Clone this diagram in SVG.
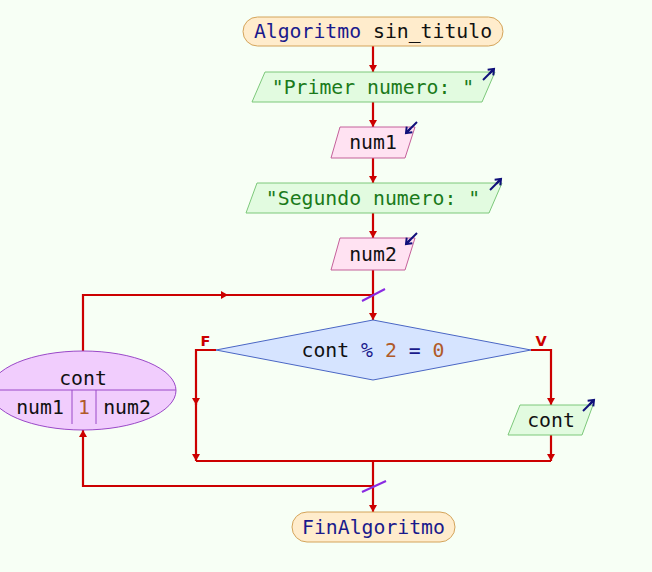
<svg xmlns="http://www.w3.org/2000/svg" width="652" height="572" viewBox="0 0 652 572">
<defs>
<style>
.t{font-family:"DejaVu Sans Mono","Liberation Mono",monospace;font-size:19.8px;text-anchor:middle}
.kw{fill:#1a1a8c}.num{fill:#b05a28}.str{fill:#1a7a1a}.id{fill:#111}
.term{fill:#ffeccc;stroke:#d4a45a;stroke-width:1}
.out{fill:#e2fbe0;stroke:#7cc87a;stroke-width:1}
.in{fill:#ffe2f2;stroke:#c4609a;stroke-width:1}
.dec{fill:#d6e4ff;stroke:#4a66c4;stroke-width:1}
.loop{fill:#f1cdfd;stroke:#9a48c8;stroke-width:1}
.ln{fill:none;stroke:#cc0000;stroke-width:2.2}
.ic{fill:none;stroke:#10107a;stroke-width:2}
.sl{stroke:#8a2be2;stroke-width:2}
.lab{font-family:"DejaVu Sans","Liberation Sans",sans-serif;font-size:14.5px;font-weight:bold;fill:#cc0000;text-anchor:middle}
</style>
<marker id="ah" markerUnits="userSpaceOnUse" markerWidth="10" markerHeight="10" refX="8" refY="5" orient="auto"><path d="M1,1 L8,5 L1,9 Z" fill="#cc0000"/></marker>
<marker id="ih" markerUnits="userSpaceOnUse" markerWidth="10" markerHeight="10" refX="7" refY="5" orient="auto"><path d="M0,5 L7,5 M2,1 L7,5 L2,9" fill="none" stroke="#10107a" stroke-width="2"/></marker>
</defs>
<rect width="652" height="572" fill="#f7fff5"/>
<g id="connectors">
<path class="ln" d="M373,46 V72" marker-end="url(#ah)"/>
<path class="ln" d="M373,102 V127" marker-end="url(#ah)"/>
<path class="ln" d="M373,158 V183" marker-end="url(#ah)"/>
<path class="ln" d="M373,213 V238" marker-end="url(#ah)"/>
<path class="ln" d="M373,270 V320" marker-end="url(#ah)"/>
<path class="ln" d="M83,351 V295 H228" marker-end="url(#ah)"/>
<path class="ln" d="M226,295 H373"/>
<path class="ln" d="M216,350 H196 V405" marker-end="url(#ah)"/>
<path class="ln" d="M196,403 V461" marker-end="url(#ah)"/>
<path class="ln" d="M531,350 H551 V405" marker-end="url(#ah)"/>
<path class="ln" d="M551,435 V461" marker-end="url(#ah)"/>
<path class="ln" d="M196,461 H551"/>
<path class="ln" d="M373,461 V512" marker-end="url(#ah)"/>
<path class="ln" d="M373,486 H83 V430" marker-end="url(#ah)"/>
<line class="sl" x1="362" y1="301" x2="385" y2="289"/>
<line class="sl" x1="362" y1="492" x2="386" y2="481"/>
<text class="lab" x="205.5" y="345.5">F</text>
<text class="lab" x="541" y="345.5">V</text>
</g>
<g id="start">
<rect class="term" x="243" y="17" width="260" height="29" rx="14.5"/>
<text class="t" x="373" y="38"><tspan class="kw">Algoritmo</tspan><tspan class="id"> sin_titulo</tspan></text>
</g>
<g id="out1">
<polygon class="out" points="265,72 495,72 482,102 252,102"/>
<text class="t str" x="373" y="94">"Primer numero: "</text>
<line class="ic" x1="483" y1="80" x2="494" y2="69" marker-end="url(#ih)"/>
</g>
<g id="in1">
<polygon class="in" points="340,127 415,127 405,158 331,158"/>
<text class="t id" x="373" y="149">num1</text>
<line class="ic" x1="417" y1="122" x2="406" y2="133" marker-end="url(#ih)"/>
</g>
<g id="out2">
<polygon class="out" points="257,183 502,183 489,213 246,213"/>
<text class="t str" x="373" y="205">"Segundo numero: "</text>
<line class="ic" x1="490" y1="190" x2="501" y2="179" marker-end="url(#ih)"/>
</g>
<g id="in2">
<polygon class="in" points="340,238 415,238 405,270 331,270"/>
<text class="t id" x="373" y="261">num2</text>
<line class="ic" x1="417" y1="233" x2="406" y2="244" marker-end="url(#ih)"/>
</g>
<g id="loop">
<ellipse class="loop" cx="83" cy="390.5" rx="93" ry="39.5"/>
<line class="loop" x1="-10" y1="390" x2="176" y2="390"/>
<line class="loop" x1="72" y1="390" x2="72" y2="424"/>
<line class="loop" x1="96" y1="390" x2="96" y2="424"/>
<text class="t id" x="83" y="385">cont</text>
<text class="t id" x="40" y="414">num1</text>
<text class="t num" x="84" y="414">1</text>
<text class="t id" x="127" y="414">num2</text>
</g>
<g id="cond">
<polygon class="dec" points="373,320 531,350 373,380 216,350"/>
<text class="t" x="373" y="357"><tspan class="id">cont </tspan><tspan class="kw">%</tspan><tspan class="num"> 2</tspan><tspan class="kw"> =</tspan><tspan class="num"> 0</tspan></text>
</g>
<g id="out3">
<polygon class="out" points="520,405 593,405 582,435 508,435"/>
<text class="t id" x="551" y="427">cont</text>
<line class="ic" x1="583" y1="411" x2="594" y2="400" marker-end="url(#ih)"/>
</g>
<g id="end">
<rect class="term" x="292" y="512" width="163" height="30" rx="15"/>
<text class="t kw" x="373.5" y="534">FinAlgoritmo</text>
</g>
</svg>
